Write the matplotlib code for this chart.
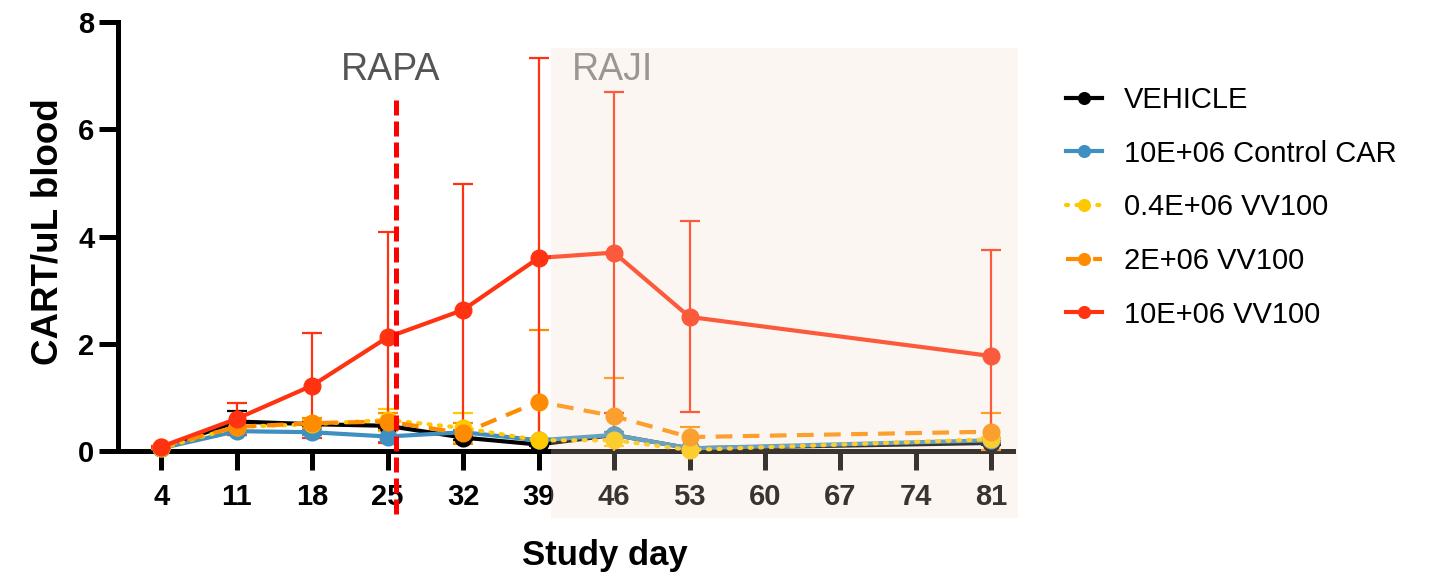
import matplotlib
matplotlib.use('Agg')
import matplotlib.pyplot as plt
from matplotlib.patches import Rectangle
import numpy as np

plt.rcParams['font.family'] = ['Liberation Sans', 'DejaVu Sans']

# Study days and group means / SEM
days = [4, 11, 18, 25, 32, 39, 46, 53, 81]

vehicle = [0.05, 0.55, 0.50, 0.47, 0.25, 0.12, 0.30, 0.05, 0.15]
vehicle_err = [0.02, 0.20, 0.05, 0.05, 0.05, 0.03, 0.05, 0.02, 0.03]

control_car = [0.05, 0.37, 0.35, 0.27, 0.35, 0.20, 0.30, 0.05, 0.20]
control_car_err = [0.02, 0.07, 0.06, 0.10, 0.05, 0.03, 0.05, 0.02, 0.05]

vv100_low = [0.05, 0.45, 0.50, 0.58, 0.43, 0.20, 0.20, 0.02, 0.22]
vv100_low_err = [0.02, 0.10, 0.08, 0.20, 0.27, 0.03, 0.10, 0.05, 0.05]

vv100_mid = [0.08, 0.45, 0.52, 0.55, 0.33, 0.92, 0.65, 0.26, 0.36]
vv100_mid_err = [0.02, 0.10, 0.10, 0.15, 0.20, 1.34, 0.71, 0.19, 0.35]

vv100_high = [0.08, 0.60, 1.22, 2.12, 2.63, 3.60, 3.70, 2.50, 1.77]
vv100_high_err = [0.02, 0.30, 0.98, 1.97, 2.35, 3.73, 3.00, 1.78, 1.98]

labels = ['VEHICLE', '10E+06 Control CAR', '0.4E+06 VV100', '2E+06 VV100', '10E+06 VV100']
colors = ['#000000', '#3f8fc0', '#ffc800', '#ff8c00', '#ff3311']
styles = ['-', '-', ':', '--', '-']

rapa_day = 25.8
raji_start, raji_end = 40.15, 83.5

fig = plt.figure(figsize=(14.31, 5.76), dpi=100)
ax = fig.add_axes([118/1431, 1 - 451/576, (1013 - 118)/1431, (451 - 22)/576])

series = [(vehicle, vehicle_err), (control_car, control_car_err), (vv100_low, vv100_low_err),
          (vv100_mid, vv100_mid_err), (vv100_high, vv100_high_err)]

handles = []
for (vals, err), lab, col, ls in zip(series, labels, colors, styles):
    ax.errorbar(days, vals, yerr=err, fmt='none', ecolor=col, elinewidth=1.6,
                capsize=7, capthick=1.6, zorder=3)
    if ls == ':':
        line, = ax.plot(days, vals, color=col, lw=3, ls=(0, (0.5, 2)), dash_capstyle='round',
                        marker='o', ms=12, label=lab, clip_on=False, zorder=4)
    elif ls == '--':
        line, = ax.plot(days, vals, color=col, lw=3, ls=(0, (4, 2.5)),
                        marker='o', ms=12, label=lab, clip_on=False, zorder=4)
    else:
        line, = ax.plot(days, vals, color=col, lw=3, ls=ls,
                        marker='o', ms=12, label=lab, clip_on=False, zorder=4)
    handles.append(line)

ax.set_xlim(0, 83)
ax.set_ylim(0, 8)
ax.set_xticks(np.arange(4, 82, 7))
ax.set_yticks([0, 2, 4, 6, 8])

for side in ['top', 'right']:
    ax.spines[side].set_visible(False)
for side in ['left', 'bottom']:
    ax.spines[side].set_linewidth(3.6)
ax.tick_params(axis='both', width=3.6, length=14, labelsize=21)
ax.tick_params(axis='x', pad=9)
ax.tick_params(axis='y', pad=3)
for lbl in ax.get_xticklabels() + ax.get_yticklabels():
    lbl.set_fontweight('bold')

# RAPA treatment marker
ax.plot([rapa_day, rapa_day], [6.55, -1.25], color='#ff0000', lw=3.6, ls=(0, (3, 1.2)),
        clip_on=False, zorder=5)
ax.text(rapa_day - 0.5, 7.1, 'RAPA', fontsize=27, color='#555555', ha='center', va='center')
ax.text(raji_start + 1.9, 7.1, 'RAJI', fontsize=27, color='#808080', ha='left', va='center')

# RAJI shaded window (drawn over everything, semi-transparent)
ax.add_patch(Rectangle((raji_start, -1.25), raji_end - raji_start, 7.52 + 1.25,
                       facecolor='#f2ddc8', edgecolor='none', alpha=0.24,
                       clip_on=False, zorder=10))

fig.text(48/1431, 1 - 232/576, 'CART/uL blood', rotation=90, fontsize=26.5,
         fontweight='bold', ha='center', va='center')
fig.text(605/1431, 1 - 555/576, 'Study day', fontsize=25, fontweight='bold',
         ha='center', va='center')

fig.legend(handles=handles, loc='upper left', bbox_to_anchor=(1066/1431, 1 - 86/576),
           frameon=False, fontsize=21, labelspacing=0.88, handlelength=1.25,
           handletextpad=0.75, markerscale=0.7, borderpad=0, borderaxespad=0)

fig.savefig('out.png', dpi=100)
